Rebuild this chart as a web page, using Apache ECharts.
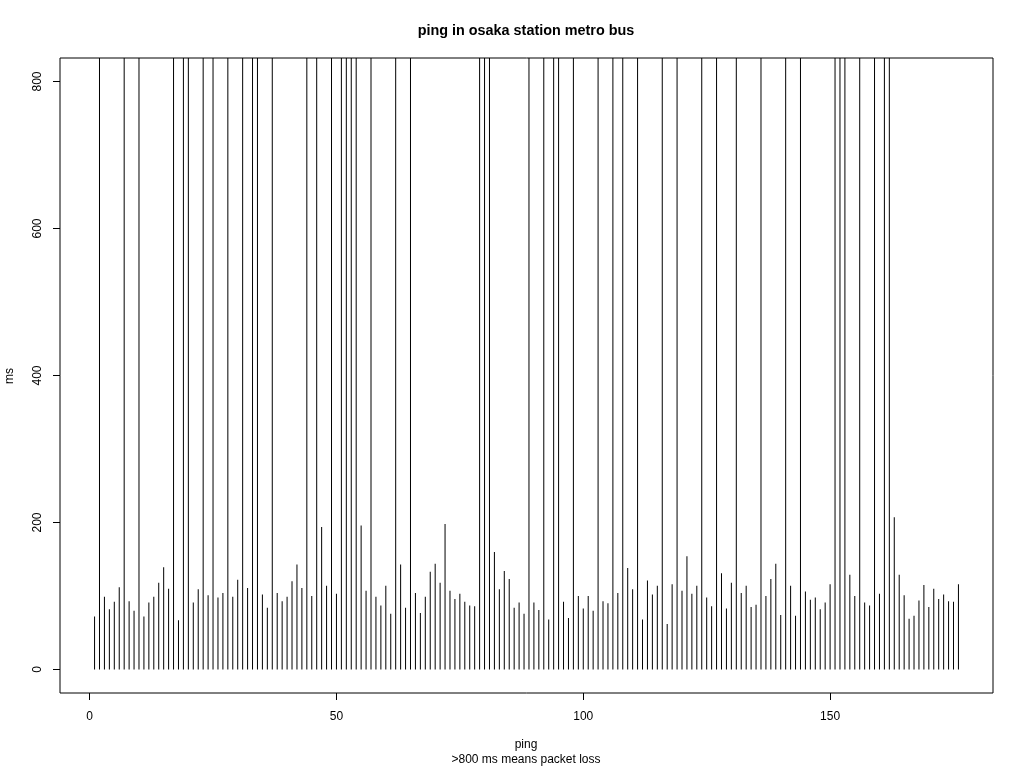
<!DOCTYPE html>
<html>
<head>
<meta charset="utf-8">
<script src="https://cdn.jsdelivr.net/npm/echarts@6/dist/echarts.min.js"></script>
<style>html,body{margin:0;padding:0;background:#fff}#c{width:1024px;height:768px}</style>
</head>
<body>
<div id="c"></div>
<script>
// ping number (1..176) and round-trip time in ms; 1000 = lost packet (>800 ms)
const pingMs = [
  72,1000,99,82,92,112,1000,93,80,1000,
  72,91,99,118,139,110,1000,67,1000,1000,
  91,109,1000,101,1000,98,104,1000,99,122,
  1000,111,1000,1000,102,84,1000,104,93,99,
  120,143,111,1000,100,1000,194,114,1000,103,
  1000,1000,1000,1000,196,107,1000,99,87,114,
  76,1000,143,84,1000,104,77,99,133,144,
  118,198,107,96,103,92,87,86,1000,1000,
  1000,160,109,134,123,84,91,76,1000,91,
  81,1000,68,1000,1000,92,70,1000,100,83,
  100,80,1000,93,90,1000,104,1000,138,109,
  1000,68,121,102,114,1000,62,116,1000,107,
  154,103,114,1000,98,86,1000,131,83,118,
  1000,104,114,85,88,1000,100,123,144,74,
  1000,114,73,1000,106,95,98,82,91,116,
  1000,1000,1000,129,100,1000,91,87,1000,103,
  1000,1000,207,129,101,69,73,94,115,85,
  110,96,102,93,92,116
];
const pingIndex = pingMs.map((v, i) => i + 1);
const xTicks = [0, 50, 100, 150];
const yTicks = [0, 200, 400, 600, 800];
const titleText = 'ping in osaka station metro bus';
const xLabel = 'ping';
const xSubLabel = '>800 ms means packet loss';
const yLabel = 'ms';

const font = 'Liberation Sans, Arial, Helvetica, sans-serif';
const chart = echarts.init(document.getElementById('c'), null, {renderer: 'canvas'});
chart.setOption({
  animation: false,
  backgroundColor: '#fff',
  graphic: [
    {type: 'text', x: 526, y: 31, style: {text: titleText, align: 'center', verticalAlign: 'middle',
      font: 'bold 14.4px ' + font, fill: '#000'}},
    {type: 'text', x: 526, y: 745, style: {text: xLabel, align: 'center', verticalAlign: 'middle',
      font: '12px ' + font, fill: '#000'}},
    {type: 'text', x: 526, y: 760, style: {text: xSubLabel, align: 'center', verticalAlign: 'middle',
      font: '12px ' + font, fill: '#000'}},
    {type: 'text', x: 10, y: 376, rotation: Math.PI / 2, style: {text: yLabel, align: 'center', verticalAlign: 'middle',
      font: '12px ' + font, fill: '#000'}}
  ],
  grid: {left: 60, right: 31, top: 58, bottom: 75, containLabel: false, outerBoundsMode: 'none',
    show: true, borderColor: '#000', borderWidth: 1, backgroundColor: 'transparent'},
  xAxis: {
    type: 'value', min: -6, max: 183,
    axisLine: {show: false, onZero: false},
    splitLine: {show: false},
    axisTick: {show: true, length: 7, inside: false, lineStyle: {color: '#000'}, customValues: xTicks},
    axisLabel: {show: true, margin: 18, color: '#000', fontFamily: font, fontSize: 12, customValues: xTicks}
  },
  yAxis: {
    type: 'value', min: -32, max: 832,
    axisLine: {show: false, onZero: false},
    splitLine: {show: false},
    axisTick: {show: true, length: 7, inside: false, lineStyle: {color: '#000'}, customValues: yTicks},
    axisLabel: {show: true, margin: 16, rotate: 90, color: '#000', fontFamily: font, fontSize: 12, customValues: yTicks}
  },
  series: [{
    type: 'bar',
    barWidth: 1,
    clip: true,
    itemStyle: {color: '#000'},
    data: pingIndex.map((x, i) => [x, pingMs[i]])
  }]
});
</script>
</body>
</html>
